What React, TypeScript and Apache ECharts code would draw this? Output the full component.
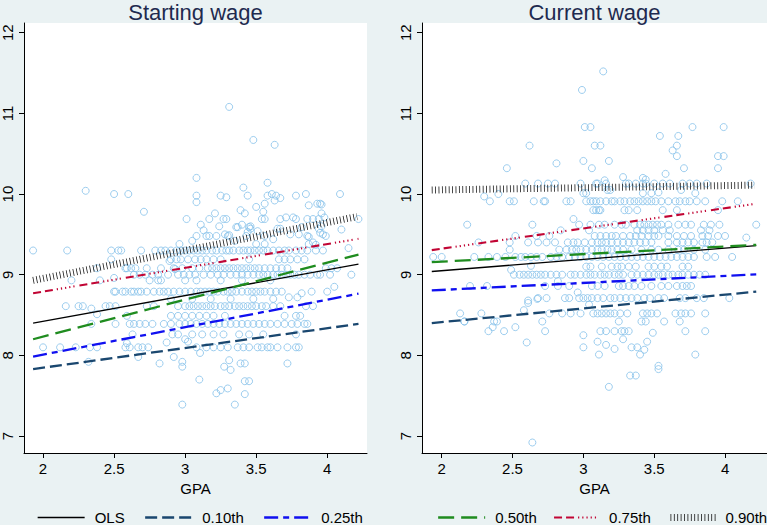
import React, { useEffect, useRef } from "react";
import * as echarts from "echarts";

const xTicks = [2, 2.5, 3, 3.5, 4];
const yTicks = [7, 8, 9, 10, 11, 12];
const panelTitles = ["Starting wage", "Current wage"];
const axisName = "GPA";
const fitNames = ["OLS", "0.10th", "0.25th", "0.50th", "0.75th", "0.90th"];

// Starting wage: individual points [GPA, log wage]
const startPoints = [
  [3.31, 11.08], [3.48, 10.67], [3.63, 10.61], [3.08, 10.2], [3.58, 10.14], [2.3, 10.04], [3.41, 10.08],
  [2.5, 10.0], [2.6, 10.0], [3.08, 9.98], [3.25, 9.98], [3.29, 9.96], [3.44, 9.98], [3.58, 9.98], [3.61, 10.0],
  [3.64, 9.98], [3.63, 9.92], [3.67, 9.95], [3.78, 9.98], [3.85, 10.0], [4.09, 10.0], [3.08, 9.9], [3.93, 9.88],
  [3.95, 9.88], [2.71, 9.78], [3.5, 9.84], [3.56, 9.88], [3.39, 9.8], [3.42, 9.76], [3.55, 9.78], [3.21, 9.76],
  [3.01, 9.69], [3.11, 9.62], [3.17, 9.69], [3.27, 9.69], [3.29, 9.69], [3.36, 9.59], [3.4, 9.62], [3.45, 9.59],
  [3.46, 9.57], [3.44, 9.53], [3.43, 9.48], [3.54, 9.69], [3.56, 9.69], [3.67, 9.69], [3.71, 9.71], [3.76, 9.71],
  [3.78, 9.69], [3.86, 9.69], [3.9, 9.69], [3.94, 9.69], [3.65, 9.57], [3.67, 9.57], [3.94, 9.57], [3.96, 9.76],
  [3.97, 9.5], [3.86, 9.48], [3.74, 9.5], [4.22, 9.69], [4.15, 9.33], [3.9, 9.4], [2.96, 9.38], [3.08, 9.48],
  [3.15, 9.48], [3.22, 9.48], [3.28, 9.5], [3.3, 9.48], [3.05, 9.42], [3.56, 9.48], [3.17, 9.48], [3.31, 9.49],
  [3.37, 9.59], [3.46, 9.6], [3.51, 9.54], [3.82, 9.59], [3.98, 9.71], [3.96, 9.6], [3.95, 9.52], [3.99, 9.48],
  [4.1, 9.56], [3.8, 9.5], [3.87, 9.47], [3.87, 9.38], [3.92, 9.37], [3.5, 9.38], [3.56, 9.38], [3.87, 9.86],
  [3.96, 9.87], [3.13, 9.55], [3.24, 9.6], [3.35, 9.42], [3.62, 9.44],
  [2.32, 7.92], [2.67, 7.98], [2.82, 7.9], [2.92, 7.98], [2.98, 7.92], [2.98, 7.86], [3.105, 8.03], [2.98, 7.39],
  [3.1, 7.7], [3.22, 7.53], [3.25, 7.57], [3.3, 7.59], [3.275, 7.86], [3.32, 7.82], [3.31, 7.94], [3.35, 7.39],
  [3.39, 7.9], [3.42, 7.9], [3.42, 7.68], [3.45, 7.68], [3.42, 7.52], [3.72, 7.9], [2.87, 8.16], [3.0, 8.2],
  [3.02, 8.17], [2.59, 8.15], [2.2, 8.93], [2.4, 8.93], [2.58, 9.08], [2.62, 9.08], [2.89, 9.17], [2.93, 9.07],
  [2.5, 8.96], [2.38, 8.51], [2.34, 8.58], [4.05, 8.85], [3.79, 8.72], [3.73, 8.72], [3.82, 8.77],
];

// Starting wage: rows of points sharing one wage level [log wage, GPAs]
const startRows: [number, number[]][] = [
  [9.3, [1.93, 2.17, 2.48, 2.53, 2.55, 2.69, 2.79, 2.83, 2.86, 2.9, 2.94, 2.97, 3.0, 3.03, 3.06, 3.09, 3.12, 3.15, 3.19, 3.22, 3.26, 3.29, 3.31, 3.34, 3.38, 3.41, 3.44, 3.46, 3.49, 3.52, 3.55, 3.58, 3.62, 3.66, 3.7, 3.73, 3.78, 3.82, 3.86, 3.92, 3.97]],
  [9.19, [2.48, 2.9, 2.94, 2.97, 3.02, 3.07, 3.11, 3.15, 3.2, 3.25, 3.45, 3.66, 3.7, 3.74, 3.79, 3.84]],
  [9.08, [2.38, 2.59, 2.65, 2.73, 2.83, 2.92, 2.98, 3.05, 3.1, 3.16, 3.19, 3.22, 3.25, 3.28, 3.31, 3.34, 3.37, 3.4, 3.43, 3.46, 3.49, 3.52, 3.56, 3.6, 3.64, 3.68, 3.72, 3.99, 4.03, 4.07]],
  [9.0, [2.64, 2.68, 2.72, 2.77, 2.81, 2.88, 2.95, 2.99, 3.03, 3.07, 3.13, 3.18, 3.23, 3.27, 3.32, 3.36, 3.4, 3.44, 3.48, 3.52, 3.55, 3.58, 3.62, 3.65, 3.68, 3.71, 3.74, 3.77, 3.8, 3.84, 3.88, 3.93, 3.95, 4.02, 4.17]],
  [8.93, [2.75, 2.81, 2.83, 3.0, 3.08, 3.25, 3.4, 3.6]],
  [8.79, [2.5, 2.51, 2.56, 2.58, 2.62, 2.64, 2.67, 2.69, 2.73, 2.78, 2.82, 2.85, 2.88, 2.92, 2.96, 3.0, 3.04, 3.08, 3.11, 3.14, 3.17, 3.2, 3.23, 3.27, 3.3, 3.33, 3.36, 3.4, 3.44, 3.47, 3.5, 3.53, 3.56, 3.6, 3.64, 3.68, 3.89, 4.0]],
  [8.7, [2.9, 3.05, 3.18, 3.32, 3.48, 3.62]],
  [8.61, [2.16, 2.25, 2.28, 2.44, 2.47, 2.51, 2.73, 2.78, 2.95, 3.0, 3.03, 3.06, 3.09, 3.12, 3.15, 3.18, 3.21, 3.25, 3.28, 3.31, 3.35, 3.38, 3.41, 3.44, 3.47, 3.5, 3.54, 3.57, 3.62, 3.67, 3.85, 3.9]],
  [8.49, [2.59, 2.9, 2.95, 3.0, 3.05, 3.1, 3.15, 3.2, 3.28, 3.7, 3.78, 3.81]],
  [8.39, [2.34, 2.51, 2.61, 2.64, 2.68, 2.72, 2.77, 2.85, 2.9, 2.96, 3.0, 3.04, 3.08, 3.12, 3.16, 3.2, 3.24, 3.28, 3.32, 3.36, 3.4, 3.44, 3.48, 3.52, 3.56, 3.6, 3.65, 3.7, 3.75, 3.79, 3.84, 3.86]],
  [8.26, [2.63, 2.91, 2.95, 3.05, 3.12, 3.2, 3.27, 3.38, 3.45, 3.55, 3.78]],
  [8.1, [2.0, 2.12, 2.23, 2.33, 2.38, 2.58, 2.61, 2.67, 2.7, 2.74, 3.08, 3.15, 3.2, 3.25, 3.3, 3.37, 3.41, 3.45, 3.51, 3.54, 3.58, 3.6, 3.65, 3.72, 3.78, 3.8]],
];

// Current wage: individual points [GPA, log wage]
const currentPoints = [
  [3.14, 11.52], [2.99, 11.29], [3.01, 10.83], [3.05, 10.83], [3.77, 10.83], [3.99, 10.83], [3.54, 10.72],
  [3.67, 10.72], [2.62, 10.6], [3.08, 10.6], [3.12, 10.6], [3.66, 10.6], [3.63, 10.54], [3.66, 10.47],
  [3.95, 10.47], [3.99, 10.47], [3.0, 10.41], [3.18, 10.41], [2.81, 10.38], [2.46, 10.32], [3.06, 10.32],
  [3.71, 10.32], [3.95, 10.32], [3.58, 10.25], [3.28, 10.21], [3.42, 10.2], [3.44, 10.18], [3.15, 10.17],
  [3.17, 10.05], [3.19, 10.05], [3.69, 10.05], [2.4, 10.0], [3.0, 10.01], [3.02, 10.01], [3.42, 10.01],
  [3.48, 10.01], [3.53, 10.02], [3.79, 10.01], [2.3, 9.97], [2.93, 9.69], [3.07, 9.8], [3.09, 9.8], [3.12, 9.8],
  [3.29, 9.8], [3.32, 9.8], [3.38, 9.8], [3.56, 9.8], [3.66, 9.8], [3.95, 9.8], [3.11, 9.8],
  [3.11, 8.01], [3.4, 8.01], [3.79, 8.01], [3.33, 7.75], [3.37, 7.75], [3.53, 7.87], [3.53, 7.83], [3.18, 7.61],
  [2.64, 6.92], [2.6, 8.16], [3.0, 8.25], [3.1, 8.17], [3.16, 8.13], [3.28, 8.2], [3.45, 8.17], [3.0, 8.1],
  [3.22, 8.08], [3.34, 8.1], [3.38, 8.1], [3.43, 8.07], [2.52, 8.35], [2.36, 8.35], [3.49, 8.28], [2.58, 8.56],
  [2.61, 8.65], [2.61, 8.68], [2.675, 8.7], [3.04, 8.63], [2.96, 8.78], [2.82, 8.92], [2.49, 9.06], [2.63, 9.11],
  [4.15, 9.46], [3.02, 9.1], [2.16, 8.42],
];

// Current wage: rows [log wage, GPAs]
const currentRows: [number, number[]][] = [
  [10.13, [2.59, 2.68, 2.75, 2.8, 2.98, 3.09, 3.1, 3.16, 3.3, 3.32, 3.37, 3.42, 3.44, 3.5, 3.56, 3.61, 3.7, 3.75, 3.8, 3.87, 4.18]],
  [9.91, [2.34, 2.48, 2.51, 2.65, 2.72, 2.73, 2.88, 2.91, 3.02, 3.05, 3.07, 3.09, 3.12, 3.16, 3.2, 3.22, 3.26, 3.29, 3.33, 3.36, 3.39, 3.42, 3.45, 3.48, 3.51, 3.55, 3.6, 3.65, 3.68, 3.72, 3.75, 3.8, 3.86, 3.98, 4.09]],
  [9.62, [2.18, 2.64, 2.97, 3.05, 3.11, 3.15, 3.22, 3.27, 3.3, 3.36, 3.4, 3.43, 3.46, 3.49, 3.52, 3.55, 3.6, 3.67, 3.72, 3.76, 3.85, 3.9, 3.96, 4.22]],
  [9.55, [2.84, 3.04, 3.38, 3.42, 3.46, 3.5, 3.56, 3.61, 3.83, 3.89]],
  [9.48, [2.52, 2.67, 2.76, 3.08, 3.12, 3.16, 3.2, 3.23, 3.28, 3.33, 3.37, 3.41, 3.46, 3.5, 3.53, 3.6, 3.66, 3.71, 3.76, 3.84, 3.88, 3.95, 4.0]],
  [9.4, [2.26, 2.48, 2.61, 2.68, 2.74, 2.8, 2.89, 2.93, 2.96, 3.01, 3.06, 3.1, 3.13, 3.16, 3.2, 3.24, 3.28, 3.32, 3.36, 3.4, 3.44, 3.48, 3.6, 3.66, 3.7, 3.74, 3.78, 3.84, 3.87, 3.91]],
  [9.31, [2.48, 2.83, 2.88, 2.92, 2.95, 2.98, 3.02, 3.06, 3.1, 3.13, 3.17, 3.2, 3.24, 3.28, 3.34, 3.41, 3.48, 3.53, 3.6, 3.67, 3.71, 3.78, 3.86]],
  [9.22, [1.94, 2.0, 2.23, 2.33, 2.39, 2.45, 2.52, 2.56, 2.59, 2.63, 2.67, 2.71, 2.77, 2.81, 2.85, 2.9, 2.94, 2.98, 3.02, 3.06, 3.1, 3.14, 3.18, 3.22, 3.26, 3.3, 3.34, 3.38, 3.42, 3.46, 3.5, 3.54, 3.58, 3.62, 3.66, 3.7, 3.74, 3.78, 3.87, 3.93, 4.05]],
  [9.1, [3.05, 3.13, 3.2, 3.24, 3.27, 3.32, 3.37, 3.46, 3.5, 3.55, 3.59, 3.7, 3.74]],
  [9.0, [2.51, 2.55, 2.58, 2.61, 2.64, 2.67, 2.7, 2.73, 2.77, 2.81, 2.85, 2.91, 2.94, 2.98, 3.02, 3.05, 3.08, 3.12, 3.15, 3.18, 3.22, 3.25, 3.28, 3.34, 3.38, 3.42, 3.46, 3.5, 3.53, 3.56, 3.6, 3.63, 3.67, 3.7, 3.74, 3.78, 3.82, 3.86]],
  [8.86, [2.2, 2.32, 2.73, 2.82, 2.9, 3.06, 3.1, 3.15, 3.25, 3.28, 3.32, 3.36, 3.41, 3.48, 3.55, 3.6, 3.66, 3.7, 3.73, 3.76]],
  [8.71, [2.68, 2.74, 2.87, 2.9, 2.97, 3.0, 3.03, 3.06, 3.1, 3.14, 3.19, 3.22, 3.26, 3.3, 3.34, 3.38, 3.43, 3.47, 3.53, 3.57, 3.68, 3.72, 3.8, 3.85, 4.03]],
  [8.52, [2.13, 2.28, 2.76, 2.85, 2.91, 2.98, 3.07, 3.1, 3.13, 3.16, 3.19, 3.22, 3.26, 3.31, 3.42, 3.45, 3.48, 3.52, 3.65, 3.69, 3.72, 3.76, 3.86]],
  [8.42, [2.16, 2.37, 2.39, 2.71, 3.25, 3.41, 3.44, 3.57, 3.68]],
  [8.3, [2.33, 2.44, 2.73, 3.12, 3.16, 3.22, 3.27, 3.29, 3.32, 3.72, 3.86]],
];

// Fitted lines (endpoints), in order of fitNames
const startFits = [
  [[1.93, 8.4], [4.22, 9.13]],
  [[1.93, 7.83], [4.22, 8.39]],
  [[1.93, 7.985], [4.22, 8.765]],
  [[1.93, 8.2], [4.22, 9.25]],
  [[1.93, 8.77], [4.22, 9.445]],
  [[1.93, 8.93], [4.21, 9.72]],
];
const currentFits = [
  [[1.93, 9.04], [4.22, 9.36]],
  [[1.93, 8.4], [4.22, 8.79]],
  [[1.93, 8.805], [4.22, 9.005]],
  [[1.93, 9.155], [4.22, 9.37]],
  [[1.93, 9.305], [4.22, 9.88]],
  [[1.93, 10.05], [4.21, 10.11]],
];

const FONT = "Liberation Sans";
const fitStyles: any[] = [
  { color: "#000000", width: 1.3, type: "solid" },
  { color: "#1a476f", width: 2.3, type: [12, 5] },
  { color: "#1010f0", width: 2.3, type: [14, 5, 6, 5] },
  { color: "#1f8c1f", width: 2.3, type: [16, 7] },
  { color: "#c10534", width: 2.1, type: [8, 4, 8, 4, 1.2, 3, 1.2, 3, 1.2, 3, 1.2, 3, 1.2, 5] },
  { color: "#1a1a1a", width: 7, type: [0.8, 2.6] },
];
// legend item left edges and icon widths, one legend per item
const legendLefts = [37, 144, 263, 437, 553, 667];
const legendIconWidths = [47, 47, 47, 47, 45, 45];

function buildScatter(points: number[][], rows: [number, number[]][]) {
  const out: number[][] = points.map((p) => [p[0], p[1]]);
  rows.forEach(([w, gpas]) => gpas.forEach((g) => out.push([g, w])));
  return out;
}

export default function App() {
  const ref = useRef<HTMLDivElement>(null);
  useEffect(() => {
    if (!ref.current) return;
    const chart = echarts.init(ref.current, undefined, { renderer: "svg" });
    const panels = [
      { left: 24, right: 400, xmin: 1.866, xmax: 4.28, center: 195.5, pts: buildScatter(startPoints, startRows), fits: startFits },
      { left: 422, right: 0, xmin: 1.861, xmax: 4.296, center: 594.5, pts: buildScatter(currentPoints, currentRows), fits: currentFits },
    ];
    const axisLineStyle = { color: "#000", width: 1 };
    const clear = "rgba(0,0,0,0)";
    const series: any[] = [];
    panels.forEach((p, i) => {
      series.push({
        type: "scatter",
        xAxisIndex: i,
        yAxisIndex: i,
        data: p.pts,
        symbol: "circle",
        symbolSize: 7,
        silent: true,
        itemStyle: { color: clear, borderColor: "#84c0ea", borderWidth: 1 },
        z: 2,
      });
      p.fits.forEach((d, k) => {
        series.push({
          type: "line",
          name: fitNames[k],
          xAxisIndex: i,
          yAxisIndex: i,
          data: d,
          symbol: "none",
          silent: true,
          lineStyle: { ...fitStyles[k], cap: "butt" },
          itemStyle: { color: clear, borderColor: clear, borderWidth: 0 },
          z: 3 + k,
        });
      });
    });
    chart.setOption({
      animation: false,
      backgroundColor: "#eaf2f3",
      textStyle: { fontFamily: FONT },
      grid: panels.map((p) => ({
        left: p.left,
        right: p.right,
        top: 23,
        bottom: 72,
        show: true,
        backgroundColor: "#ffffff",
        borderWidth: 0,
      })),
      xAxis: panels.map((p, i) => ({
        type: "value",
        gridIndex: i,
        min: p.xmin,
        max: p.xmax,
        name: axisName,
        nameLocation: "middle",
        nameGap: 25,
        nameTextStyle: { fontSize: 15, color: "#000", fontFamily: FONT },
        axisLine: { show: true, onZero: false, lineStyle: axisLineStyle },
        axisTick: { show: true, length: 5, customValues: xTicks, lineStyle: axisLineStyle },
        axisLabel: { customValues: xTicks, fontSize: 15, color: "#000", margin: 8, fontFamily: FONT },
        splitLine: { show: false },
      })),
      yAxis: panels.map((p, i) => ({
        type: "value",
        gridIndex: i,
        min: 6.79,
        max: 12.12,
        axisLine: { show: true, onZero: false, lineStyle: axisLineStyle },
        axisTick: { show: true, length: 5, customValues: yTicks, lineStyle: axisLineStyle },
        axisLabel: { customValues: yTicks, fontSize: 15, color: "#000", margin: 9, rotate: 90, fontFamily: FONT },
        splitLine: { show: false },
      })),
      legend: fitNames.map((n, k) => ({
        data: [n],
        left: legendLefts[k],
        top: 510,
        itemWidth: legendIconWidths[k],
        itemHeight: 14,
        padding: 0,
        selectedMode: false,
        itemStyle: { color: clear, borderColor: clear, borderWidth: 0 },
        lineStyle: { width: fitStyles[k].width },
        textStyle: { fontSize: 15, color: "#000", fontFamily: FONT, padding: [0, 0, 0, 5] },
      })),
      graphic: panels.map((p, i) => ({
        type: "text",
        x: p.center,
        y: 12,
        silent: true,
        style: {
          text: panelTitles[i],
          fontSize: 22,
          fontFamily: FONT,
          fill: "#1e2a4f",
          align: "center",
          verticalAlign: "middle",
          textAlign: "center",
          textVerticalAlign: "middle",
        },
      })),
      series,
    });
    return () => chart.dispose();
  }, []);
  return (
    <div
      ref={ref}
      style={{ position: "fixed", left: 0, top: 0, width: 767, height: 525 }}
    />
  );
}
